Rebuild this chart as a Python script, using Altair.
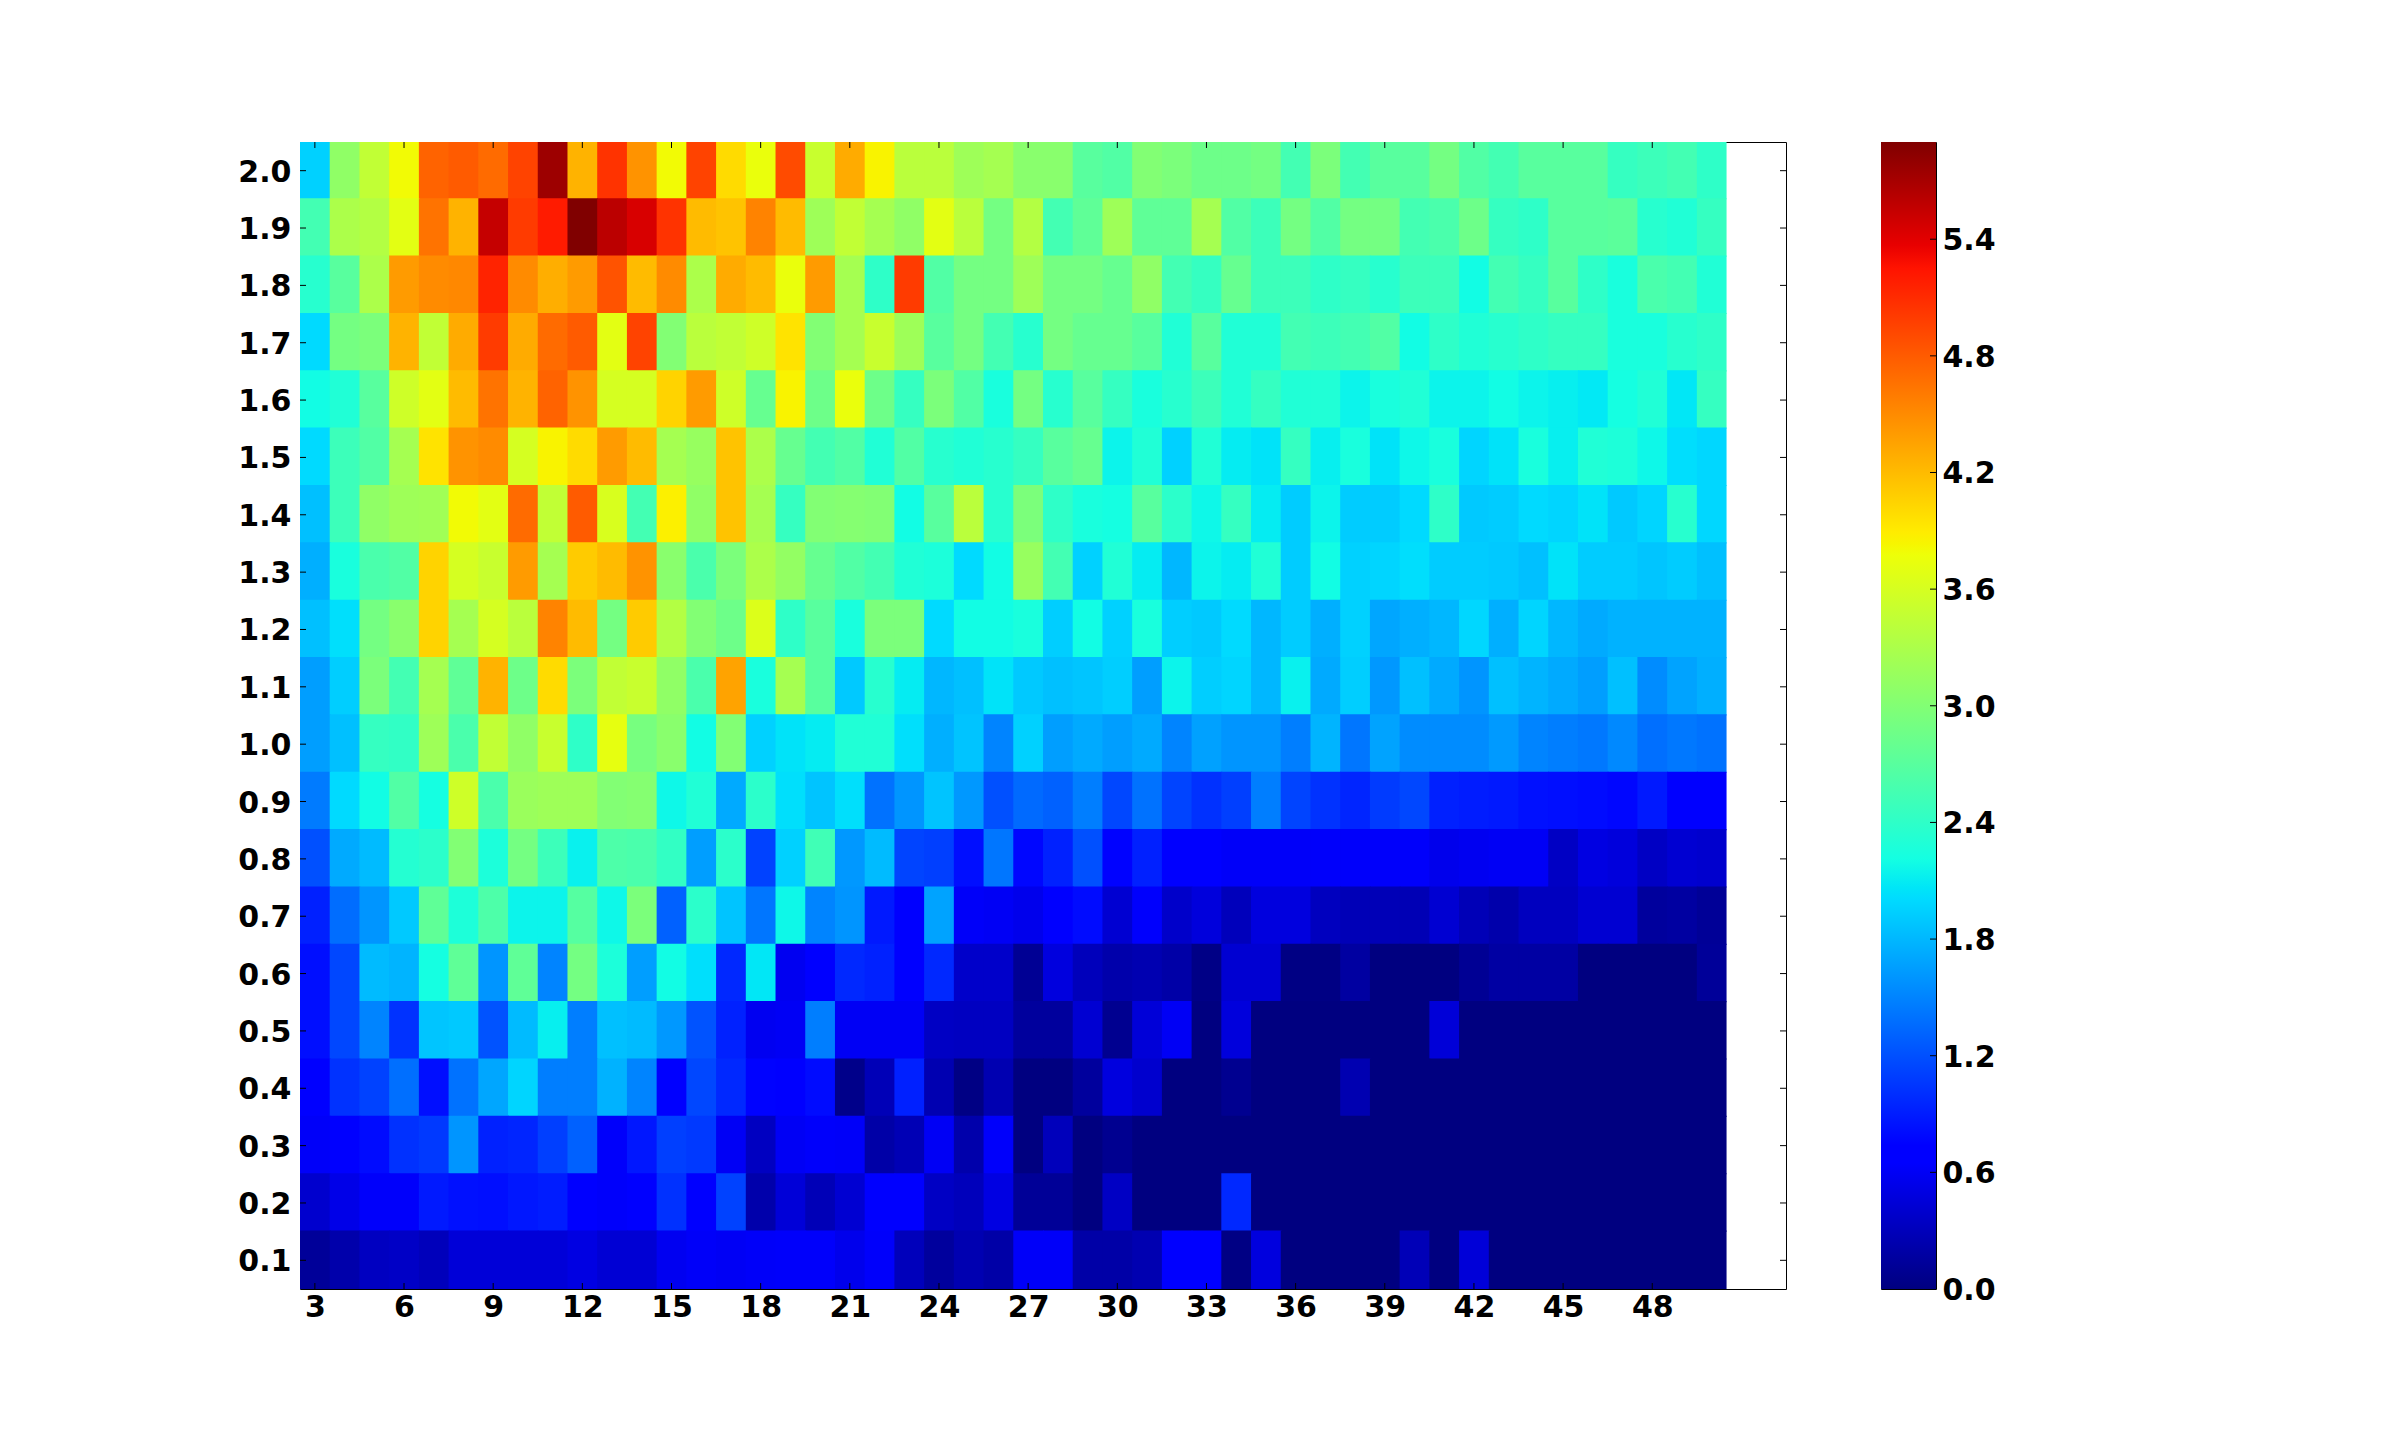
import altair as alt
import pandas as pd

columns = list(range(3, 51))
row_labels = [2.0, 1.9, 1.8, 1.7, 1.6, 1.5, 1.4, 1.3, 1.2, 1.1, 1.0, 0.9, 0.8, 0.7, 0.6, 0.5, 0.4, 0.3, 0.2, 0.1]

r20 = [1.95,3.1,3.45,3.8,4.75,4.8,4.7,4.95,5.75,4.25,5.05,4.45,3.8,4.95,4.0,3.75,4.9,3.5,4.3,3.85,3.4,3.4,3.2,3.25,3.05,3.05,2.7,2.65,3.0,2.95,2.85,2.85,2.9,2.55,2.95,2.55,2.7,2.7,2.9,2.65,2.55,2.7,2.7,2.7,2.45,2.5,2.55,2.4]
r19 = [2.55,3.3,3.35,3.7,4.65,4.25,5.55,5.0,5.2,5.9,5.6,5.45,5.05,4.2,4.15,4.55,4.2,3.2,3.45,3.25,3.1,3.7,3.4,2.9,3.35,2.55,2.75,3.2,2.75,2.75,3.25,2.65,2.5,2.9,2.65,2.9,2.9,2.55,2.6,2.85,2.45,2.4,2.7,2.7,2.72,2.35,2.3,2.45]
r18 = [2.35,2.7,3.3,4.4,4.5,4.52,5.15,4.5,4.28,4.4,4.85,4.2,4.5,3.3,4.3,4.2,3.75,4.4,3.25,2.4,5.0,2.65,2.9,2.9,3.2,2.9,2.9,2.8,3.1,2.55,2.45,2.8,2.5,2.5,2.4,2.45,2.35,2.5,2.5,2.2,2.55,2.45,2.7,2.4,2.25,2.6,2.55,2.3]
r17 = [2.0,2.9,2.95,4.25,3.45,4.3,5.0,4.3,4.7,4.8,3.7,4.95,3.0,3.4,3.45,3.55,3.95,3.0,3.25,3.5,3.2,2.7,2.9,2.55,2.35,2.9,2.8,2.8,2.7,2.3,2.7,2.3,2.3,2.55,2.5,2.55,2.65,2.2,2.4,2.3,2.35,2.4,2.45,2.45,2.25,2.25,2.35,2.4]
r16 = [2.2,2.3,2.7,3.55,3.7,4.2,4.65,4.25,4.75,4.45,3.6,3.6,4.05,4.4,3.55,2.8,3.85,2.85,3.75,2.85,2.45,2.95,2.65,2.25,2.9,2.35,2.7,2.45,2.25,2.35,2.5,2.3,2.45,2.3,2.3,2.15,2.25,2.3,2.15,2.15,2.2,2.15,2.12,2.08,2.22,2.3,2.07,2.45]
r15 = [2.0,2.5,2.65,3.25,3.95,4.45,4.5,3.6,3.85,4.0,4.4,4.2,3.25,3.15,4.15,3.3,2.8,2.55,2.65,2.3,2.65,2.35,2.3,2.35,2.45,2.7,2.8,2.15,2.3,1.95,2.3,2.1,2.05,2.45,2.12,2.25,2.05,2.17,2.25,1.97,2.05,2.25,2.12,2.3,2.28,2.17,2.02,1.98]
r14 = [1.85,2.5,3.1,3.2,3.22,3.8,3.7,4.7,3.45,4.8,3.62,2.55,3.87,3.1,4.15,3.25,2.45,3.0,3.02,3.0,2.2,2.7,3.4,2.35,2.95,2.4,2.25,2.22,2.7,2.38,2.17,2.45,2.1,1.92,2.15,1.92,1.92,2.0,2.4,1.9,1.92,2.0,1.97,2.05,1.9,1.97,2.35,1.98]
r13 = [1.75,2.25,2.6,2.65,4.05,3.6,3.5,4.4,3.25,4.1,4.2,4.45,3.05,2.6,2.95,3.3,3.12,2.8,2.65,2.55,2.3,2.27,2.0,2.2,3.15,2.55,1.95,2.3,2.1,1.8,2.15,2.1,2.3,1.92,2.2,1.95,1.97,2.02,1.92,1.92,1.9,1.85,2.05,1.92,1.92,1.88,1.92,1.85]
r12 = [1.85,2.03,2.9,3.05,4.05,3.25,3.6,3.4,4.55,4.2,2.9,4.1,3.35,3.0,2.85,3.65,2.4,2.7,2.25,2.95,2.95,2.0,2.2,2.2,2.25,1.93,2.2,1.95,2.25,1.93,1.9,2.0,1.8,1.92,1.75,1.95,1.7,1.75,1.8,1.98,1.75,1.97,1.8,1.72,1.77,1.77,1.77,1.77]
r11 = [1.65,1.93,2.95,2.55,3.25,2.75,4.25,2.85,4.0,2.95,3.45,3.5,3.1,2.6,4.35,2.25,3.25,2.7,1.9,2.35,2.1,1.8,1.85,2.05,1.9,1.85,1.88,1.93,1.65,2.15,1.93,1.97,1.8,2.13,1.72,1.93,1.62,1.85,1.72,1.6,1.85,1.78,1.72,1.65,1.85,1.55,1.68,1.75]
r10 = [1.65,1.85,2.45,2.42,3.2,2.6,3.45,3.1,3.5,2.4,3.72,2.92,3.05,2.2,3.0,1.95,2.05,2.1,2.3,2.3,2.03,1.75,1.87,1.5,1.95,1.65,1.72,1.65,1.72,1.5,1.67,1.6,1.6,1.47,1.78,1.42,1.68,1.55,1.55,1.55,1.63,1.5,1.47,1.43,1.53,1.38,1.43,1.4]
r09 = [1.45,2.0,2.2,2.65,2.22,3.55,2.6,3.17,3.2,3.2,3.0,3.02,2.17,2.3,1.72,2.38,2.03,1.87,2.03,1.4,1.6,1.87,1.62,1.2,1.35,1.3,1.47,1.15,1.4,1.13,1.02,1.1,1.47,1.13,1.03,0.95,1.08,1.15,0.92,0.9,0.88,0.83,0.82,0.8,0.77,0.88,0.68,0.68]
r08 = [1.2,1.72,1.82,2.33,2.38,3.0,2.27,2.9,2.5,2.13,2.62,2.6,2.43,1.65,2.38,1.12,1.95,2.53,1.62,1.82,1.13,1.1,0.82,1.42,0.77,0.93,1.2,0.75,0.92,0.7,0.68,0.62,0.62,0.62,0.63,0.63,0.63,0.63,0.55,0.58,0.6,0.6,0.35,0.5,0.47,0.35,0.42,0.4]
r07 = [0.92,1.37,1.6,1.9,2.75,2.28,2.62,2.15,2.15,2.68,2.17,2.95,1.3,2.38,1.87,1.42,2.17,1.5,1.6,0.88,0.68,1.68,0.62,0.6,0.55,0.65,0.8,0.42,0.64,0.38,0.47,0.3,0.48,0.48,0.32,0.28,0.28,0.27,0.42,0.28,0.22,0.32,0.32,0.42,0.42,0.15,0.17,0.12]
r06 = [0.82,1.15,1.82,1.78,2.22,2.75,1.6,2.75,1.5,2.9,2.27,1.65,2.2,2.03,0.97,2.07,0.58,0.72,0.97,0.93,0.68,0.97,0.38,0.38,0.1,0.48,0.3,0.22,0.25,0.2,0.03,0.42,0.42,0.02,0.02,0.17,0.0,0.0,0.0,0.1,0.18,0.18,0.18,0.0,0.0,0.0,0.0,0.13]
r05 = [0.82,1.15,1.5,1.03,1.88,1.9,1.22,1.82,2.12,1.47,1.85,1.82,1.62,1.22,0.93,0.58,0.6,1.47,0.6,0.6,0.6,0.35,0.33,0.33,0.15,0.15,0.42,0.08,0.45,0.6,0.0,0.47,0.0,0.0,0.0,0.0,0.0,0.0,0.45,0.0,0.0,0.0,0.0,0.0,0.0,0.0,0.0,0.0]
r04 = [0.65,1.03,1.12,1.38,0.82,1.4,1.7,1.97,1.47,1.47,1.77,1.5,0.65,1.15,0.97,0.75,0.73,0.8,0.05,0.28,0.92,0.25,0.02,0.25,0.0,0.0,0.15,0.48,0.4,0.0,0.0,0.08,0.0,0.0,0.0,0.25,0.0,0.0,0.0,0.0,0.0,0.0,0.0,0.0,0.0,0.0,0.0,0.0]
r03 = [0.62,0.66,0.8,1.02,1.07,1.6,0.93,0.95,1.1,1.3,0.63,0.87,1.1,1.07,0.6,0.33,0.6,0.63,0.62,0.2,0.27,0.6,0.22,0.63,0.0,0.3,0.0,0.08,0.0,0.0,0.0,0.0,0.0,0.0,0.0,0.0,0.0,0.0,0.0,0.0,0.0,0.0,0.0,0.0,0.0,0.0,0.0,0.0]
r02 = [0.4,0.53,0.63,0.63,0.88,0.83,0.82,0.87,0.9,0.7,0.63,0.72,1.02,0.7,1.12,0.22,0.45,0.28,0.42,0.72,0.65,0.35,0.3,0.5,0.12,0.12,0.0,0.35,0.0,0.0,0.0,0.97,0.0,0.0,0.0,0.0,0.0,0.0,0.0,0.0,0.0,0.0,0.0,0.0,0.0,0.0,0.0,0.0]
r01 = [0.13,0.22,0.33,0.36,0.3,0.45,0.45,0.45,0.45,0.5,0.43,0.43,0.58,0.62,0.6,0.62,0.63,0.63,0.55,0.63,0.3,0.15,0.25,0.2,0.62,0.62,0.2,0.2,0.25,0.65,0.68,0.02,0.48,0.0,0.0,0.0,0.0,0.28,0.0,0.45,0.0,0.0,0.0,0.0,0.0,0.0,0.0,0.0]
rows = [r20, r19, r18, r17, r16, r15, r14, r13, r12, r11, r10, r09, r08, r07, r06, r05, r04, r03, r02, r01]

x_ticks = [3, 6, 9, 12, 15, 18, 21, 24, 27, 30, 33, 36, 39, 42, 45, 48]
y_ticks = [0.1, 0.2, 0.3, 0.4, 0.5, 0.6, 0.7, 0.8, 0.9, 1.0, 1.1, 1.2, 1.3, 1.4, 1.5, 1.6, 1.7, 1.8, 1.9, 2.0]
bar_ticks = [0.0, 0.6, 1.2, 1.8, 2.4, 3.0, 3.6, 4.2, 4.8, 5.4]
vmax = 5.9

jet_pos = [0, 0.11, 0.125, 0.34, 0.35, 0.375, 0.64, 0.65, 0.66, 0.89, 0.91, 1]
jet_hex = ["#000080", "#0000ff", "#0000ff", "#00dbff", "#00e6f7", "#14ffe2",
           "#eeff08", "#f7f500", "#ffec00", "#ff1300", "#e80000", "#800000"]

W, H = 1486, 1147
BAR_W = 55
TICK = 6
FONT = "DejaVu Sans"
FS = 30

records = []
for lab, vals in zip(row_labels, rows):
    for c, v in zip(columns, vals):
        # each cell laps slightly under the next one drawn, so no seams show between cells
        records.append({"x0": c - 0.5, "x1": c + 0.5 + (0.03 if c < columns[-1] else 0),
                        "y0": round(lab - 0.05, 2), "y1": round(lab + 0.05 + (0.002 if lab < row_labels[0] else 0), 3), "v": v})
df = pd.DataFrame(records)

x_scale = alt.Scale(domain=[2.5, 52.5], nice=False, zero=False)
y_scale = alt.Scale(domain=[0.05, 2.05], nice=False, zero=False)
c_scale = alt.Scale(domain=[p * vmax for p in jet_pos], range=jet_hex, interpolate="rgb", clamp=True)

label_style = dict(ticks=False, domain=False, grid=False, labelFont=FONT, labelFontWeight="bold",
                   labelFontSize=FS, labelColor="black", labelOverlap=False, labelFlush=False)
x_axis = alt.Axis(values=x_ticks, format="d", labelPadding=3, **label_style)
y_axis = alt.Axis(values=y_ticks, format=".1f", labelPadding=9, labelOffset=1.5, **label_style)

cells = alt.Chart(df).mark_rect(strokeWidth=0).encode(
    x=alt.X("x0:Q", scale=x_scale, title=None, axis=x_axis),
    x2="x1:Q",
    y=alt.Y("y0:Q", scale=y_scale, title=None, axis=y_axis),
    y2="y1:Q",
    color=alt.Color("v:Q", scale=c_scale, legend=None),
)

xt = pd.DataFrame({"t": x_ticks})
yt = pd.DataFrame({"t": y_ticks})
rule = dict(color="black", strokeWidth=1)
X_T = alt.X("t:Q", scale=x_scale, title=None, axis=x_axis)
Y_T = alt.Y("t:Q", scale=y_scale, title=None, axis=y_axis)
top_t = alt.Chart(xt).mark_rule(**rule).encode(x=X_T, y=alt.value(0), y2=alt.value(TICK))
bot_t = alt.Chart(xt).mark_rule(**rule).encode(x=X_T, y=alt.value(H - TICK), y2=alt.value(H))
left_t = alt.Chart(yt).mark_rule(**rule).encode(y=Y_T, x=alt.value(0), x2=alt.value(TICK))
right_t = alt.Chart(yt).mark_rule(**rule).encode(y=Y_T, x=alt.value(W - TICK), x2=alt.value(W))

main = alt.layer(cells, top_t, bot_t, left_t, right_t).properties(width=W, height=H)

bar_scale = alt.Scale(domain=[0, vmax], nice=False, zero=False)
bar_axis = alt.Axis(orient="right", values=bar_ticks, format=".1f", labelPadding=6, labelOffset=1.5, **label_style)
grad = alt.Gradient(gradient="linear", x1=0, x2=0, y1=1, y2=0,
                    stops=[alt.GradientStop(offset=p, color=c) for p, c in zip(jet_pos, jet_hex)])
bar_rect = alt.Chart(pd.DataFrame({"lo": [0.0], "hi": [vmax]})).mark_rect(fill=grad, strokeWidth=0).encode(
    y=alt.Y("lo:Q", scale=bar_scale, title=None, axis=bar_axis),
    y2="hi:Q",
)
bar_t = alt.Chart(pd.DataFrame({"t": bar_ticks[1:]})).mark_rule(**rule).encode(
    y=alt.Y("t:Q", scale=bar_scale, title=None, axis=bar_axis), x=alt.value(BAR_W - TICK), x2=alt.value(BAR_W))
colorbar = alt.layer(bar_rect, bar_t).properties(width=BAR_W, height=H)

chart = alt.hconcat(main, colorbar, spacing=93).properties(
    padding={"left": 229, "top": 133, "right": 10, "bottom": 10},
    background="white",
).configure_view(stroke="black", strokeWidth=1)

chart.save("out.html", embed_options={"renderer": "svg", "actions": False})
